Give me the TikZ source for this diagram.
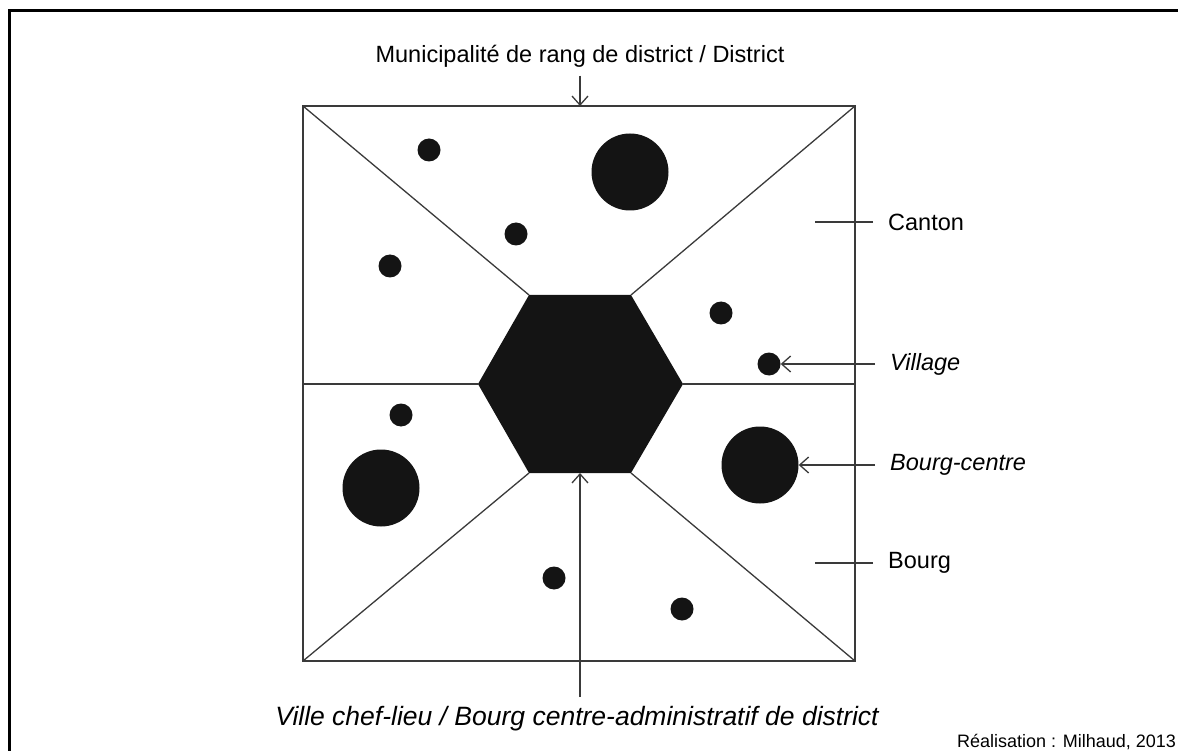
\documentclass[tikz,border=0pt]{standalone}
\usepackage{fontspec}
\setmainfont{Liberation Sans}
\usetikzlibrary{arrows.meta}
\definecolor{ligne}{HTML}{3A3A3A}
\definecolor{remplissage}{HTML}{141414}
\begin{document}
\begin{tikzpicture}[x=1pt, y=-1pt,
        >={Straight Barb[length=9pt, width=16pt]},
        trait/.style={draw=ligne, line width=1.3pt},
        village/.style={circle, fill=remplissage, inner sep=0pt, minimum size=23pt},
        bourgcentre/.style={circle, fill=remplissage, inner sep=0pt, minimum size=77pt},
        texte/.style={font=\fontsize{23.5}{28}\selectfont},
        legende/.style={texte, inner xsep=15pt, inner ysep=0pt, anchor=west}]
                \useasboundingbox (0,0) rectangle (1178,751);
                \draw[line width=3pt] (9,760) -- (9,11) -- (1190,11);

                % district
                \node (A) at (303,106) {};
                \node (B) at (855,106) {};
                \node (C) at (855,661) {};
                \node (D) at (303,661) {};
                \draw[trait] (A.center) -- (B.center) -- (C.center) -- (D.center) -- cycle;

                % ville chef-lieu
                \node (H) at (580,384) {};
                \node (h1) at (478,384) {};
                \node (h2) at (529,295) {};
                \node (h3) at (631,295) {};
                \node (h4) at (683,384) {};
                \node (h5) at (631,473) {};
                \node (h6) at (529,473) {};

                \draw[trait] (A.center) -- (h2.center);
                \draw[trait] (B.center) -- (h3.center);
                \draw[trait] (C.center) -- (h5.center);
                \draw[trait] (D.center) -- (h6.center);
                \draw[trait] (h1.center -| A.center) -- (h1.center);
                \draw[trait] (h4.center) -- (h4.center -| B.center);

                \fill[remplissage] (h1.center) -- (h2.center) -- (h3.center) -- (h4.center) -- (h5.center) -- (h6.center) -- cycle;

                % villages et bourgs-centres
                \node[village] (v1) at (429,150) {};
                \node[village] (v2) at (516,234) {};
                \node[village] (v3) at (390,266) {};
                \node[village] (v4) at (721,313) {};
                \node[village] (v5) at (769,364) {};
                \node[village] (v6) at (401,415) {};
                \node[village] (v7) at (554,578) {};
                \node[village] (v8) at (682,609) {};
                \node[bourgcentre] (bc1) at (630,172) {};
                \node[bourgcentre] (bc2) at (381,488) {};
                \node[bourgcentre] (bc3) at (760,465) {};

                % legendes
                \node[texte] (district) at (580,56) {Municipalité de rang de district / District};
                \node[legende] (canton) at (873,222) {Canton};
                \node[legende] (villageL) at (875,364) {\itshape Village};
                \node[legende] (bourgcentreL) at (875,465) {\itshape Bourg-centre};
                \node[legende] (bourg) at (873,563) {Bourg};
                \node[texte, font=\fontsize{26.5}{31}\selectfont\itshape] (chefLieu) at (577,719) {Ville chef-lieu / Bourg centre-administratif de district};
                \node[font=\fontsize{18}{22}\selectfont, anchor=base west, inner sep=0pt] (realisation) at (957,747) {Réalisation : Milhaud, 2013};

                \draw[trait, ->] (district.south) ++(0,5) -- (district.south |- A.center);
                \draw[trait, ->] (chefLieu.north -| H.center) ++(0,-6) -- (H.center |- h5.center);
                \draw[trait] (canton.west) -- ++(-58,0);
                \draw[trait] (bourg.west) -- ++(-58,0);
                \draw[trait, ->] (villageL.west) -- (v5);
                \draw[trait, ->] (bourgcentreL.west) -- (bc3);
            \end{tikzpicture}
\end{document}
